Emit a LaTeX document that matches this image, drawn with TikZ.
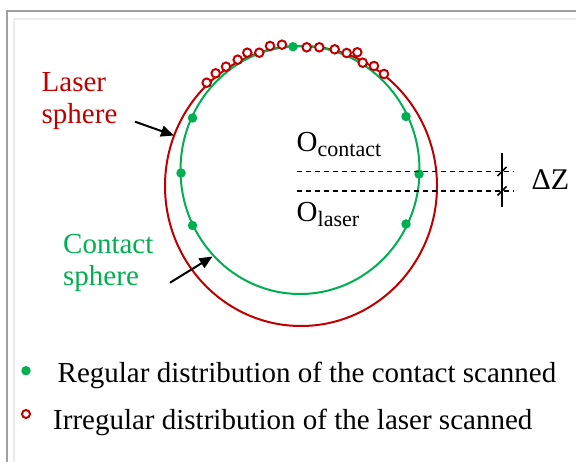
\documentclass[tikz,border=0pt]{standalone}
\usepackage{fontspec}
\setmainfont{Liberation Serif}
\usetikzlibrary{arrows.meta}
\definecolor{lred}{RGB}{192,0,0}
\definecolor{cgreen}{RGB}{0,176,80}
\definecolor{frameA}{RGB}{160,160,160}
\definecolor{frameB}{RGB}{236,236,236}
\newcommand{\bigf}{\fontsize{29}{34}\selectfont}
\newcommand{\subf}{\fontsize{22}{22}\selectfont}
\tikzset{
  gdot/.style={circle,fill=cgreen,inner sep=0pt,minimum size=9.5pt},
  rdot/.style={circle,draw=lred,fill=white,line width=2pt,inner sep=0pt,minimum size=8.5pt},
  lbl/.style={inner sep=0pt,anchor=base west},
  pointer/.style={line width=2pt,-{Triangle[length=13pt,width=11pt]}},
  dline/.style={line width=1.1pt,dash pattern=on 5pt off 4pt},
}
\begin{document}
\begin{tikzpicture}[x=1pt,y=-1pt]
\useasboundingbox (0,0) rectangle (576,462);
% frame
\draw[frameA,line width=2pt] (6.5,462) -- (6.5,11) -- (576,11);
\draw[frameB,line width=2pt] (13.5,462) -- (13.5,19) -- (576,19);
% spheres
\draw[lred,line width=2pt] (301,186) ellipse [x radius=136,y radius=140];
\draw[cgreen,line width=2pt] (300,170) ellipse [x radius=119.5,y radius=124];
% green contact points
\foreach \p [count=\i] in {(293,46.7),(192.5,118),(181,173),(192.5,225.5),(406,116.5),(419,174),(406,224)}
  \node[gdot] (g\i) at \p {};
% red laser points
\foreach \p [count=\i] in {(206.7,82.7),(215.7,73.3),(226,66.7),(237.7,59.7),(247.3,52.7),(259.3,52.7),(270,46),(282,44.7),(306.7,47.3),(319.3,47.3),(334.7,49.3),(346.7,53),(357.3,52.3),(362.7,62.7),(374,66),(384,74)}
  \node[rdot] (r\i) at \p {};
% labels
\node[lbl,text=lred] (laser1) at (41.5,92) {\bigf Laser};
\node[lbl,text=lred] (laser2) at (41.5,124) {\bigf sphere};
\node[lbl,text=cgreen] (cont1) at (63,254) {\bigf Contact};
\node[lbl,text=cgreen] (cont2) at (63,286) {\bigf sphere};
\coordinate (la0) at (135,121.7);
\coordinate (la1) at (174,135.5);
\draw[pointer] (la0) -- (la1);
\coordinate (ca0) at (170,282.7);
\coordinate (ca1) at (212.5,256.5);
\draw[pointer] (ca0) -- (ca1);
% centres
\node[lbl] (oc) at (296.5,151.7) {\bigf O\raisebox{-5pt}{\subf contact}};
\node[lbl] (ol) at (296.5,221.7) {\bigf O\raisebox{-5pt}{\subf laser}};
\coordinate (d1a) at (296.5,171.5);
\coordinate (d1b) at (513,171.5);
\coordinate (d2a) at (296.5,191);
\coordinate (d2b) at (513,191);
\draw[dline] (d1a) -- (d1b);
\draw[dline] (d2a) -- (d2b);
% delta z marker
\coordinate (v0) at (502,153);
\coordinate (v1) at (502,207);
\draw[line width=1.6pt] (v0) -- (v1);
\coordinate (t1a) at (497.5,176);
\coordinate (t1b) at (506.5,167);
\coordinate (t2a) at (497.5,195.5);
\coordinate (t2b) at (506.5,186.5);
\draw[line width=1.6pt] (t1a) -- (t1b);
\draw[line width=1.6pt] (t2a) -- (t2b);
\node[lbl] (dz) at (531.5,189.5) {\fontsize{30}{34}\selectfont ΔZ};
% legend
\node[gdot] (lg1) at (26,370.7) {};
\node[lbl] (lt1) at (57.5,382.7) {\bigf Regular distribution of the contact scanned};
\node[rdot,minimum size=8pt] (lg2) at (26,414) {};
\node[lbl] (lt2) at (53,429) {\bigf Irregular distribution of the laser scanned};
\end{tikzpicture}
\end{document}
